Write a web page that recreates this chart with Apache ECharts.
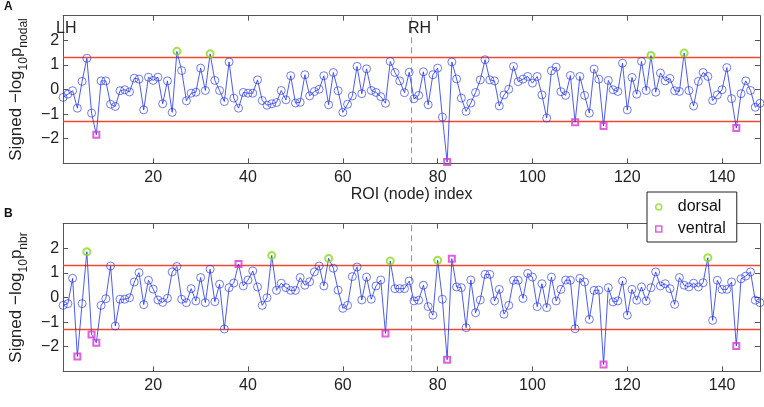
<!DOCTYPE html>
<html><head><meta charset="utf-8">
<script src="https://cdn.jsdelivr.net/npm/echarts@6/dist/echarts.min.js"></script>
<style>html,body{margin:0;padding:0;background:#fff}#c{width:764px;height:407px}</style>
</head><body><div id="c"></div>
<script>
// ---- data ----
const nodalValues = [
 -0.32,-0.19,-0.05,-0.76,0.33,1.27,-0.96,-1.84,0.35,0.35,
 -0.60,-0.69,-0.05,-0.01,-0.10,0.46,0.42,-0.83,0.50,0.37,
 0.50,-0.58,0.35,-0.93,1.55,0.77,-0.46,-0.15,-0.11,0.87,
 -0.04,1.45,0.37,-0.04,-0.49,1.12,-0.35,-0.76,-0.12,-0.15,
 -0.15,0.39,-0.45,-0.64,-0.58,-0.53,-0.04,-0.42,0.56,-0.55,
 -0.52,0.60,-0.26,-0.08,0.01,0.56,-0.62,0.69,-0.05,-0.93,
 -0.60,-0.26,0.94,-0.17,0.84,-0.04,-0.12,-0.29,-0.56,1.14,
 0.69,0.35,-0.13,0.70,-0.38,-0.24,0.72,-0.62,0.60,0.87,
 -1.12,-2.95,1.12,0.43,-0.35,-0.89,-0.55,-0.12,0.39,1.21,
 0.39,0.35,-0.67,-0.22,0.01,0.94,0.32,0.42,0.53,0.26,
 0.53,-0.22,-1.16,0.76,0.91,-0.09,-0.24,0.57,-1.33,0.53,
 -0.24,-0.96,0.83,0.42,-1.48,0.37,-0.01,-0.08,1.07,-0.83,
 0.49,-0.19,1.14,-0.04,1.38,-0.11,0.67,0.35,0.45,-0.05,
 -0.08,1.48,-0.04,-0.67,0.33,0.69,0.53,-0.45,-0.22,-0.01,
 0.89,-0.37,-1.57,-0.17,0.35,-0.04,-0.72,-0.56
];
const nbrValues = [
 -0.32,-0.25,0.78,-2.40,-0.25,1.86,-1.50,-1.84,-0.32,-0.05,
 1.28,-1.16,-0.07,-0.07,-0.01,0.63,1.01,-0.29,0.70,0.34,
 -0.10,-0.20,-0.03,1.04,1.26,-0.07,-0.21,0.36,-0.14,0.81,
 -0.21,1.15,-0.17,0.54,-1.28,0.40,0.59,1.36,0.47,0.71,
 1.08,0.43,-0.32,-0.01,1.71,0.29,0.58,0.40,0.29,0.29,
 0.81,0.50,0.64,1.04,1.28,0.47,1.59,1.19,0.30,-0.44,
 -0.32,0.85,1.24,-0.10,0.83,-0.07,0.47,0.71,-1.46,1.48,
 0.36,0.36,0.36,0.67,-0.14,-0.11,0.50,-0.37,-0.72,1.51,
 -0.07,-2.53,1.58,0.43,0.40,-1.23,0.71,-0.62,-0.10,0.94,
 0.94,-0.14,0.33,-0.68,-0.32,0.70,0.70,-0.04,0.98,0.83,
 -0.37,0.56,-0.41,0.83,-0.14,0.33,0.71,0.70,-1.27,0.78,
 0.63,-0.89,0.29,0.30,-2.72,0.40,-0.18,-0.14,0.67,-0.72,
 0.33,-0.11,0.43,-0.14,0.40,1.04,0.47,0.56,0.36,-0.28,
 0.81,0.50,0.43,0.58,0.43,0.60,1.62,-0.93,0.70,0.33,
 0.33,0.63,-1.97,0.76,0.87,1.04,-0.11,-0.21
];
const nodalDorsal = [25,32,125,132];
const nodalVentral = [8,82,109,115,143];
const nbrDorsal = [6,45,57,70,80,137];
const nbrVentral = [4,7,8,38,69,82,83,115,143];
const xTicks = [20,40,60,80,100,120,140];
const yTicks = [-2,-1,0,1,2];
const xRange = [1,148];
const yRange = [-3,3];
const threshold = -Math.log10(0.05);
const hemisphereSplit = 74.5;
const legendNames = ['dorsal','ventral'];

// ---- styles ----
const FONT = 'Liberation Sans';
const blue = '#1f31f0', green = '#86dc1c', magenta = '#d83ad8', red = '#ee4a32', frame = '#555';

function fmtY(v){ return v < 0 ? '\u2212' + (-v) : String(v); }

function xAxisCfg(grid, pos, labels, name){
  return {type:'value', gridIndex:grid, position:pos, min:xRange[0], max:xRange[1],
    axisLine:{show:true, onZero:false, lineStyle:{color:frame, width:1}},
    axisTick:{show:true, inside:true, length:5, customValues:xTicks, lineStyle:{color:frame}},
    axisLabel:{show:labels, customValues:xTicks, fontSize:16, color:'#222', margin:6, fontFamily:FONT},
    splitLine:{show:false},
    name: name || '', nameLocation:'middle', nameGap:20,
    nameTextStyle:{fontSize:16, color:'#222', fontFamily:FONT}};
}
function yAxisCfg(grid, pos, labels, sub){
  return {type:'value', gridIndex:grid, position:pos, min:yRange[0], max:yRange[1],
    axisLine:{show:true, onZero:false, lineStyle:{color:frame, width:1}},
    axisTick:{show:true, inside:true, length:5, customValues:yTicks, lineStyle:{color:frame}},
    axisLabel:{show:labels, customValues:yTicks, fontSize:16, color:'#222', margin:4, fontFamily:FONT, formatter:fmtY},
    splitLine:{show:false},
    name: sub ? '{n|Signed \u2212log}{s|10}{n|p}{s|' + sub + '}' : '',
    nameLocation:'middle', nameGap:28,
    nameTextStyle:{color:'#222', fontFamily:FONT, rich:{
      n:{fontSize:17, lineHeight:22, verticalAlign:'top', fontFamily:FONT, color:'#222'},
      s:{fontSize:12, lineHeight:12, verticalAlign:'bottom', fontFamily:FONT, color:'#222'}}}};
}

function refLine(xi, yi, data, style, z){
  return {type:'line', xAxisIndex:xi, yAxisIndex:yi, data, symbol:'none', showSymbol:false,
    silent:true, z, lineStyle:style};
}

function panelSeries(values, dorsal, ventral, xi, yi){
  const pts = values.map((v,i)=>[i+1, v]);
  const hl = new Set(dorsal.concat(ventral));
  const redStyle = {color:red, width:1.5, type:'solid'};
  return [
    refLine(xi, yi, [[xRange[0], threshold],[xRange[1], threshold]], redStyle, 1),
    refLine(xi, yi, [[xRange[0], -threshold],[xRange[1], -threshold]], redStyle, 1),
    refLine(xi, yi, [[hemisphereSplit, yRange[0]],[hemisphereSplit, yRange[1]]], {color:'#777', width:0.8, type:[6,4]}, 1),
    {type:'line', xAxisIndex:xi, yAxisIndex:yi, data:pts, symbol:'none', showSymbol:false,
     lineStyle:{color:blue, width:0.8}, silent:true, z:2},
    {type:'scatter', xAxisIndex:xi, yAxisIndex:yi, data:pts.filter(p=>!hl.has(p[0])),
     symbol:'circle', symbolSize:8, silent:true, z:3,
     itemStyle:{color:'transparent', borderColor:blue, borderWidth:0.8}},
    {type:'scatter', name:legendNames[0], xAxisIndex:xi, yAxisIndex:yi, data:dorsal.map(k=>[k, values[k-1]]),
     symbol:'circle', symbolSize:7, silent:true, z:4,
     itemStyle:{color:'transparent', borderColor:green, borderWidth:2}},
    {type:'scatter', name:legendNames[1], xAxisIndex:xi, yAxisIndex:yi, data:ventral.map(k=>[k, values[k-1]]),
     symbol:'rect', symbolSize:6, silent:true, z:4,
     itemStyle:{color:'transparent', borderColor:magenta, borderWidth:2}}
  ];
}

const chart = echarts.init(document.getElementById('c'), null, {renderer:'canvas'});
chart.setOption({
  animation:false,
  backgroundColor:'#fff',
  textStyle:{fontFamily:FONT},
  grid:[
    {left:50, top:15.7, width:710, height:147.6},
    {left:50, top:223.7, width:710, height:147.6}
  ],
  xAxis:[
    xAxisCfg(0,'bottom',true,'ROI (node) index'),
    xAxisCfg(0,'top',false),
    xAxisCfg(1,'bottom',true),
    xAxisCfg(1,'top',false)
  ],
  yAxis:[
    yAxisCfg(0,'left',true,'nodal'),
    yAxisCfg(0,'right',false),
    yAxisCfg(1,'left',true,'nbr'),
    yAxisCfg(1,'right',false)
  ],
  legend:{
    orient:'vertical', left:647, top:192, selectedMode:false,
    data:[
      {name:legendNames[0], icon:'circle', itemStyle:{color:'transparent', borderColor:green, borderWidth:1.5}},
      {name:legendNames[1], icon:'path://M0,0L10,0L10,10L0,10Z', itemStyle:{color:'transparent', borderColor:magenta, borderWidth:1.5}}
    ],
    symbolKeepAspect:true,
    itemWidth:28, itemHeight:6, itemGap:6, padding:[7,11,5,8],
    backgroundColor:'#fff', borderColor:'#222', borderWidth:1, borderRadius:0,
    textStyle:{fontSize:16, color:'#111', fontFamily:FONT}, z:10
  },
  graphic:[
    {type:'text', left:4, top:1, style:{text:'A', font:'bold 12px "Liberation Sans"', fill:'#111'}},
    {type:'text', left:4, top:208, style:{text:'B', font:'bold 12px "Liberation Sans"', fill:'#111'}},
    {type:'text', left:56, top:21, z:20, style:{text:'LH', font:'16px "Liberation Sans"', fill:'#222'}},
    {type:'text', left:408, top:21, z:20, style:{text:'RH', font:'16px "Liberation Sans"', fill:'#222'}}
  ],
  series: [].concat(
    panelSeries(nodalValues, nodalDorsal, nodalVentral, 0, 0),
    panelSeries(nbrValues, nbrDorsal, nbrVentral, 2, 2)
  )
});
</script>
</body></html>
